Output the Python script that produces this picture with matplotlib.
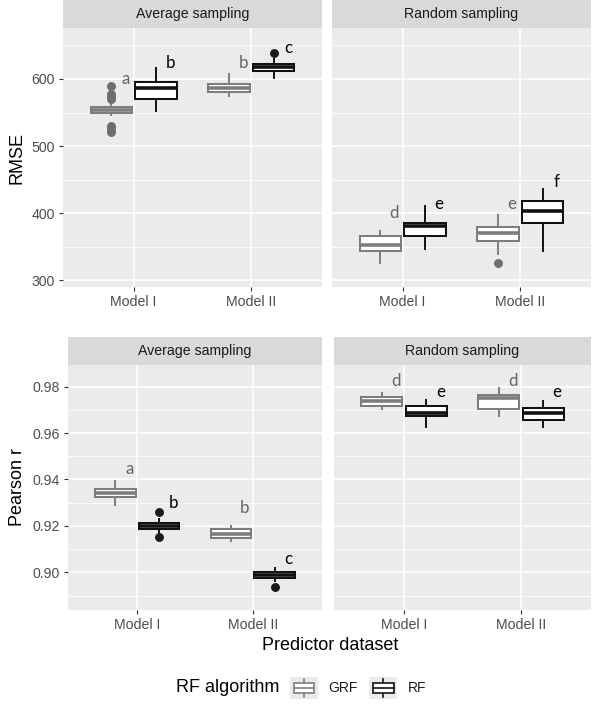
import matplotlib
matplotlib.use("Agg")
import matplotlib.pyplot as plt
from matplotlib.patches import Rectangle, Patch
from matplotlib.lines import Line2D
from matplotlib.legend_handler import HandlerBase
from matplotlib.ticker import FixedLocator

plt.rcParams['font.family'] = ['Liberation Sans', 'DejaVu Sans']

# ---------------- data ----------------
categories = ['Model I', 'Model II']
samplings = ['Average sampling', 'Random sampling']
algorithms = ['GRF', 'RF']

# box stats per category: [whisker low, Q1, median, Q3, whisker high]
rmse_avg_grf = [[546, 550, 554, 559, 562], [575, 580, 586, 593, 608]]
rmse_avg_grf_fliers = [[589, 577, 573, 570, 530, 525, 521], []]
rmse_avg_rf = [[553, 570, 586, 596, 616], [602, 612, 618, 623, 630]]
rmse_avg_rf_fliers = [[], [639]]

rmse_rnd_grf = [[326, 344, 353, 366, 373], [339, 359, 370, 380, 397]]
rmse_rnd_grf_fliers = [[], [326]]
rmse_rnd_rf = [[346, 366, 381, 385, 410], [344, 385, 404, 418, 436]]
rmse_rnd_rf_fliers = [[], []]

r_avg_grf = [[0.9290, 0.9323, 0.9343, 0.9359, 0.9393], [0.9135, 0.9146, 0.9167, 0.9187, 0.9200]]
r_avg_grf_fliers = [[], []]
r_avg_rf = [[0.9170, 0.9185, 0.9200, 0.9214, 0.9230], [0.8965, 0.8977, 0.8989, 0.9000, 0.9017]]
r_avg_rf_fliers = [[0.9258, 0.9151], [0.8935]]

r_rnd_grf = [[0.9702, 0.9718, 0.9738, 0.9754, 0.9771], [0.9673, 0.9702, 0.9750, 0.9762, 0.9793]]
r_rnd_grf_fliers = [[], []]
r_rnd_rf = [[0.9625, 0.9673, 0.9688, 0.9718, 0.9742], [0.9625, 0.9656, 0.9685, 0.9709, 0.9740]]
r_rnd_rf_fliers = [[], []]

# significance letters and their y positions
rmse_avg_letters = {'GRF': (['a', 'b'], [600, 624]), 'RF': (['b', 'c'], [624, 646])}
rmse_rnd_letters = {'GRF': (['d', 'e'], [401, 413]), 'RF': (['e', 'f'], [413, 447])}
r_avg_letters = {'GRF': (['a', 'b'], [0.9445, 0.9276]), 'RF': (['b', 'c'], [0.9297, 0.9056])}
r_rnd_letters = {'GRF': (['d', 'd'], [0.9824, 0.9824]), 'RF': (['e', 'e'], [0.9778, 0.9778])}

rmse_ticks = [300, 400, 500, 600]
r_ticks = [0.90, 0.92, 0.94, 0.96, 0.98]
r_tick_labels = ['0.90', '0.92', '0.94', '0.96', '0.98']

# ---------------- style ----------------
W, H = 600, 711
edge = {'GRF': '#7d7d7d', 'RF': '#111111'}
flier_col = {'GRF': '#6e6e6e', 'RF': '#1a1a1a'}
letter_col = {'GRF': '#666666', 'RF': '#000000'}
offset = {'GRF': -0.19, 'RF': 0.19}
PANEL = '#EBEBEB'
STRIP = '#D9D9D9'

fig = plt.figure(figsize=(W / 100, H / 100), dpi=100)


def px_axes(x0, y0, x1, y1):
    return fig.add_axes([x0 / W, 1 - y1 / H, (x1 - x0) / W, (y1 - y0) / H])


def strip(x0, y0, x1, y1, label):
    s = px_axes(x0, y0, x1, y1)
    s.set_facecolor(STRIP)
    s.set_xticks([]); s.set_yticks([])
    for sp in s.spines.values():
        sp.set_visible(False)
    s.text(0.5, 0.5, label, ha='center', va='center', fontsize=10.2,
           color='#1a1a1a', transform=s.transAxes)


def panel(ax, data, ylim, major, minor, ticklabels, show_y):
    ax.set_facecolor(PANEL)
    for sp in ax.spines.values():
        sp.set_visible(False)
    ax.set_xlim(0.4, 2.6)
    ax.set_ylim(*ylim)
    ax.set_xticks([1, 2])
    ax.set_xticklabels(categories)
    ax.yaxis.set_major_locator(FixedLocator(major))
    ax.yaxis.set_minor_locator(FixedLocator(minor))
    ax.grid(which='major', color='white', lw=1.1)
    ax.grid(which='minor', axis='y', color='white', lw=0.55)
    ax.set_axisbelow(True)
    ax.tick_params(axis='both', which='major', length=3.2, width=0.8,
                   color='#333333', labelcolor='#4d4d4d', labelsize=10.2, pad=2.5)
    ax.tick_params(axis='y', which='minor', length=0)
    if show_y:
        ax.set_yticklabels(ticklabels)
    else:
        ax.tick_params(axis='y', which='major', length=0, labelleft=False)
    stats_sets, letters = data
    for alg in algorithms:
        vals, fliers = stats_sets[alg]
        stats = []
        for v, f in zip(vals, fliers):
            stats.append(dict(whislo=v[0], q1=v[1], med=v[2], q3=v[3], whishi=v[4], fliers=f))
        pos = [i + 1 + offset[alg] for i in range(len(vals))]
        c = edge[alg]
        ax.bxp(stats, positions=pos, widths=0.35, patch_artist=True, showcaps=False,
               boxprops=dict(facecolor='white', edgecolor=c, lw=1.45),
               medianprops=dict(color=c, lw=2.6, solid_capstyle='butt'),
               whiskerprops=dict(color=c, lw=1.4),
               flierprops=dict(marker='o', markerfacecolor=flier_col[alg],
                               markeredgecolor=flier_col[alg], markersize=5.4),
               manage_ticks=False)
        labs, ys = letters[alg]
        for p, lab, y in zip(pos, labs, ys):
            ax.text(p + 0.12, y, lab, ha='center', va='center', fontsize=12.2,
                    color=letter_col[alg], family=['Lato', 'DejaVu Sans'])


# top row
strip(63, 0, 322, 28, samplings[0])
strip(332, 0, 591, 28, samplings[1])
ax1 = px_axes(63, 28, 322, 287)
ax2 = px_axes(332, 28, 591, 287)
rmse_minor = [350, 450, 550, 650]
panel(ax1, ({'GRF': (rmse_avg_grf, rmse_avg_grf_fliers), 'RF': (rmse_avg_rf, rmse_avg_rf_fliers)},
            rmse_avg_letters), (290, 676), rmse_ticks, rmse_minor,
      [str(t) for t in rmse_ticks], True)
panel(ax2, ({'GRF': (rmse_rnd_grf, rmse_rnd_grf_fliers), 'RF': (rmse_rnd_rf, rmse_rnd_rf_fliers)},
            rmse_rnd_letters), (290, 676), rmse_ticks, rmse_minor,
      [str(t) for t in rmse_ticks], False)

# bottom row
strip(68, 337, 322, 365, samplings[0])
strip(334, 337, 591, 365, samplings[1])
ax3 = px_axes(68, 365, 322, 610)
ax4 = px_axes(334, 365, 591, 610)
r_minor = [0.89, 0.91, 0.93, 0.95, 0.97, 0.99]
panel(ax3, ({'GRF': (r_avg_grf, r_avg_grf_fliers), 'RF': (r_avg_rf, r_avg_rf_fliers)},
            r_avg_letters), (0.8838, 0.9893), r_ticks, r_minor, r_tick_labels, True)
panel(ax4, ({'GRF': (r_rnd_grf, r_rnd_grf_fliers), 'RF': (r_rnd_rf, r_rnd_rf_fliers)},
            r_rnd_letters), (0.8838, 0.9893), r_ticks, r_minor, r_tick_labels, False)

# axis titles
fig.text(17 / W, 1 - 157.5 / H, 'RMSE', rotation=90, ha='center', va='center',
         fontsize=13, color='#000000')
fig.text(17 / W, 1 - 487.5 / H, 'Pearson r', rotation=90, ha='center', va='center',
         fontsize=13, color='#000000')
fig.text(330 / W, 1 - 645 / H, 'Predictor dataset', ha='center', va='center',
         fontsize=13, color='#000000')


# legend
class BoxKeyHandler(HandlerBase):
    def create_artists(self, legend, orig_handle, xdescent, ydescent, width, height,
                       fontsize, trans):
        c = orig_handle.get_edgecolor()
        x0, y0 = -xdescent, -ydescent
        arts = [Rectangle((x0, y0), width, height, facecolor=PANEL, edgecolor='none',
                          transform=trans)]
        bx0, bx1 = x0 + 0.13 * width, x0 + 0.87 * width
        by0, by1 = y0 + 0.28 * height, y0 + 0.72 * height
        xm = x0 + 0.5 * width
        arts.append(Line2D([xm, xm], [y0 + 0.08 * height, by0], color=c, lw=1.2, transform=trans))
        arts.append(Line2D([xm, xm], [by1, y0 + 0.92 * height], color=c, lw=1.2, transform=trans))
        arts.append(Rectangle((bx0, by0), bx1 - bx0, by1 - by0, facecolor='white',
                              edgecolor=c, lw=1.2, transform=trans))
        arts.append(Line2D([bx0, bx1], [y0 + 0.5 * height] * 2, color=c, lw=1.2,
                           transform=trans))
        return arts


fig.text(176 / W, 1 - 688 / H, 'RF algorithm', ha='left', va='center', fontsize=13,
         color='#000000')
handles = [Patch(facecolor='white', edgecolor=edge[a], label=a) for a in algorithms]
leg = fig.legend(handles=handles, labels=algorithms, loc='center left',
                 bbox_to_anchor=(290 / W, 1 - 688 / H), ncol=2, frameon=False,
                 fontsize=10, handlelength=2.0, handleheight=2.0, handletextpad=0.75,
                 columnspacing=0.85, borderpad=0, borderaxespad=0,
                 handler_map={Patch: BoxKeyHandler()})
for t in leg.get_texts():
    t.set_color('#1a1a1a')

fig.savefig('out.png', dpi=100, facecolor='white')
